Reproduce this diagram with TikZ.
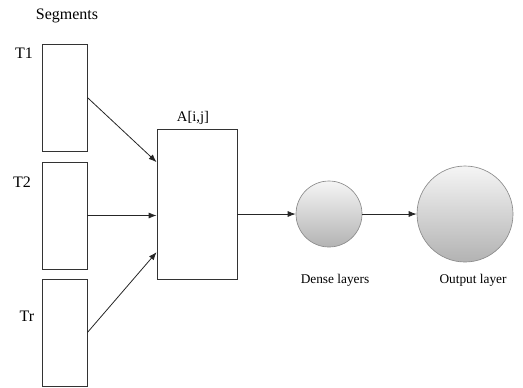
\documentclass[tikz,border=0pt]{standalone}
\usepackage{fontspec}
\setmainfont{Liberation Serif}
\usetikzlibrary{arrows.meta}
\def\px{0.75pt}
\tikzset{
  segbox/.style={draw=black!80, line width=0.6pt, minimum width=45*\px, minimum height=107*\px, inner sep=0},
  matbox/.style={draw=black!80, line width=0.6pt, minimum width=80*\px, minimum height=150*\px, inner sep=0},
  layer/.style={circle, draw=gray!90, line width=0.5pt, inner sep=0, top color=gray!8, bottom color=gray!60},
  conn/.style={-{Latex[length=6pt,width=4.5pt]}, line width=0.6pt, black!85},
}
\begin{document}
\begin{tikzpicture}[x=\px, y=-\px]
  \useasboundingbox (0,0) rectangle (523,387);
  %segments
  \node[font=\fontsize{12}{14}\selectfont] (seglbl) at (67,16) {Segments};
  \node[segbox] (t1) at (64.5,97.5) {};
  \node[segbox] (t2) at (64.5,215.5) {};
  \node[segbox] (tr) at (64.5,332.5) {};
  \node[font=\fontsize{12}{14}\selectfont] (t1lbl) at (24,53) {T1};
  \node[font=\fontsize{12}{14}\selectfont] (t2lbl) at (22,182) {T2};
  \node[font=\fontsize{12}{14}\selectfont] (trlbl) at (27,316) {Tr};
  %attention matrix
  \node[matbox] (amat) at (197,204) {};
  \node[font=\fontsize{11}{13}\selectfont] (amatlbl) at (193,118) {A[i,j]};
  %layers
  \node[layer, minimum size=66*\px] (dense) at (329,214) {};
  \node[layer, minimum size=96*\px] (output) at (465,214) {};
  \node[font=\fontsize{10}{12}\selectfont] (denselbl) at (335,280) {Dense layers};
  \node[font=\fontsize{10}{12}\selectfont] (outputlbl) at (473,280) {Output layer};
  \draw[conn] (t1.east) -- (amat.134);
  \draw[conn] (t2.east) -- (t2.east -| amat.west);
  \draw[conn] (tr.east) -- (amat.230);
  \draw[conn] (amat.east |- dense.west) -- (dense.west);
  \draw[conn] (dense.east) -- (output.west);
\end{tikzpicture}
\end{document}
